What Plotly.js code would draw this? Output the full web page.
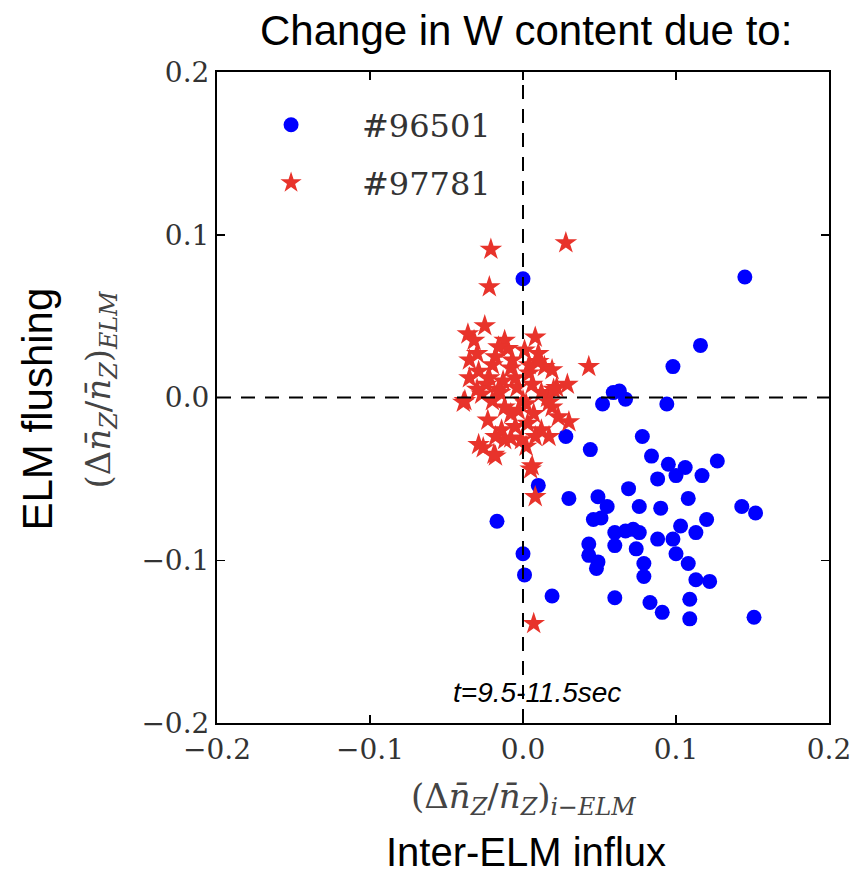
<!DOCTYPE html>
<html>
<head>
<meta charset="utf-8">
<script src="https://cdn.plot.ly/plotly-3.0.1.min.js"></script>
<style>html,body{margin:0;padding:0;background:#fff;}#chart{width:852px;height:875px;}</style>
</head>
<body>
<div id="chart"></div>
<script>
// Shot #96501 (blue circles)
const blueX = [0.000,0.145,0.116,0.098,0.059,0.063,0.067,0.052,0.094,0.028,0.044,0.078,0.084,0.095,0.106,0.127,0.088,0.100,0.117,0.010,0.030,0.069,0.049,0.055,0.076,0.090,0.108,0.143,0.152,0.046,0.051,0.120,0.103,0.113,0.060,0.067,0.072,0.076,0.060,0.088,0.098,0.043,0.074,0.100,0.043,0.049,0.048,0.079,0.108,0.079,0.113,0.122,0.019,0.060,0.083,0.109,0.091,0.109,0.151,-0.017,0.000,0.001];
const blueY = [0.073,0.074,0.032,0.019,0.003,0.004,-0.001,-0.004,-0.004,-0.024,-0.032,-0.024,-0.036,-0.041,-0.043,-0.039,-0.050,-0.048,-0.048,-0.054,-0.062,-0.056,-0.061,-0.067,-0.067,-0.068,-0.062,-0.067,-0.071,-0.075,-0.074,-0.075,-0.079,-0.083,-0.083,-0.082,-0.081,-0.083,-0.091,-0.087,-0.087,-0.090,-0.093,-0.096,-0.097,-0.101,-0.105,-0.102,-0.102,-0.110,-0.112,-0.113,-0.122,-0.123,-0.126,-0.124,-0.132,-0.136,-0.135,-0.076,-0.096,-0.109];
// Shot #97781 (red stars)
const redX = [0.028,-0.021,-0.022,-0.025,-0.036,-0.032,0.008,-0.012,0.043,0.029,-0.039,-0.035,-0.035,-0.038,-0.026,-0.018,0.006,0.014,0.019,0.001,-0.018,-0.007,-0.029,-0.024,-0.013,-0.004,0.006,0.012,0.019,0.023,0.030,-0.020,-0.012,-0.003,-0.023,-0.014,-0.005,0.003,0.012,-0.001,0.008,0.017,-0.012,-0.018,-0.029,-0.019,0.005,0.008,0.007,-0.010,0.004,-0.016,0.010,-0.027,0.016,-0.008,0.002,-0.030,0.022,
              -0.016,-0.008,0.004,-0.022,-0.015,0.000,0.007,-0.008,0.002,-0.020,0.010,-0.030,0.017,-0.005,0.020];
const redY = [0.095,0.091,0.068,0.044,0.039,0.035,0.037,0.035,0.019,0.008,-0.003,0.023,0.012,-0.002,-0.031,-0.036,-0.042,0.019,0.017,0.029,0.025,0.023,0.016,0.008,0.010,0.006,0.008,0.003,-0.006,-0.012,-0.015,-0.002,-0.006,-0.008,-0.014,-0.020,-0.018,-0.016,-0.020,-0.026,-0.024,-0.024,-0.026,-0.024,-0.029,-0.035,-0.044,-0.061,-0.139,0.030,0.015,0.005,0.027,0.002,0.000,-0.010,-0.004,0.027,0.006,
              0.031,0.018,0.020,0.012,0.003,-0.002,-0.010,-0.025,-0.030,0.020,0.022,0.005,-0.003,0.012,0.005];

const legendNames = ['#96501', '#97781'];
const xTickVals = [-0.2,-0.1,0.0,0.1,0.2];
const yTickVals = [-0.2,-0.1,0.0,0.1,0.2];

const serif = 'DejaVu Serif, Liberation Serif, serif';
const sans = 'Liberation Sans, Arial, sans-serif';

const traces = [
  {x: blueX, y: blueY, mode: 'markers', type: 'scatter', name: legendNames[0],
   marker: {symbol: 'circle', size: 15, color: '#0000ff', line: {width: 0}}, legend: 'legend'},
  {x: redX, y: redY, mode: 'markers', type: 'scatter', name: legendNames[1],
   marker: {symbol: 'star', size: 17, color: '#e8332b', line: {width: 0}}, legend: 'legend2'}
];

const tickFmt = v => (v < 0 ? '\u2212' : '') + Math.abs(v).toFixed(1);

const axisCommon = {
  showline: true, linecolor: '#000', linewidth: 2, mirror: 'ticks',
  ticks: 'inside', ticklen: 8, tickwidth: 1.5, tickcolor: '#000',
  showgrid: false, zeroline: false, ticklabeloverflow: 'allow',
  tickfont: {family: serif, size: 28, color: '#333'}
};

const layout = {
  width: 852, height: 875,
  margin: {l: 217, r: 23, t: 72, b: 152},
  paper_bgcolor: '#fff', plot_bgcolor: '#fff',
  showlegend: true,
  xaxis: Object.assign({}, axisCommon, {range: [-0.2, 0.2], tickvals: xTickVals, ticktext: xTickVals.map(tickFmt)}),
  yaxis: Object.assign({}, axisCommon, {range: [-0.2, 0.2], tickvals: yTickVals, ticktext: yTickVals.map(tickFmt)}),
  legend: {x: 0.005, y: 0.9186, xanchor: 'left', yanchor: 'middle', bgcolor: 'rgba(0,0,0,0)',
           font: {family: serif, size: 32, color: '#333'}, itemwidth: 132},
  legend2: {x: 0.005, y: 0.8295, xanchor: 'left', yanchor: 'middle', bgcolor: 'rgba(0,0,0,0)',
           font: {family: serif, size: 32, color: '#333'}, itemwidth: 132},
  shapes: [
    {type: 'line', xref: 'x', yref: 'paper', x0: 0, x1: 0, y0: 0, y1: 1, layer: 'above',
     line: {color: '#000', width: 2, dash: '14px,10px'}},
    {type: 'line', xref: 'paper', yref: 'y', x0: 0, x1: 1, y0: 0, y1: 0, layer: 'above',
     line: {color: '#000', width: 2, dash: '14px,10px'}}
  ],
  annotations: [
    {text: 'Change in W content due to:', xref: 'paper', yref: 'paper', x: 0.505, y: 1, yshift: 42,
     xanchor: 'center', yanchor: 'middle', showarrow: false, font: {family: sans, size: 42, color: '#000'}},
    {text: 'ELM flushing', xref: 'paper', yref: 'paper', x: 0, xshift: -180, y: 0.5, yshift: -12, textangle: -90,
     xanchor: 'center', yanchor: 'middle', showarrow: false, font: {family: sans, size: 42, color: '#000'}},
    {text: '(Δ<i>n̄</i><sub><i>Z</i></sub>/<i>n̄</i><sub><i>Z</i></sub>)<sub><i>ELM</i></sub>', xref: 'paper', yref: 'paper',
     x: 0, xshift: -117, y: 0.5, yshift: 8, textangle: -90,
     xanchor: 'center', yanchor: 'middle', showarrow: false, font: {family: serif, size: 34, color: '#444'}},
    {text: '(Δ<i>n̄</i><sub><i>Z</i></sub>/<i>n̄</i><sub><i>Z</i></sub>)<sub><i>i</i>−<i>ELM</i></sub>', xref: 'paper', yref: 'paper',
     x: 0.5, y: 0, yshift: -75, xanchor: 'center', yanchor: 'middle', showarrow: false,
     font: {family: serif, size: 34, color: '#444'}},
    {text: 'Inter-ELM influx', xref: 'paper', yref: 'paper', x: 0.505, y: 0, yshift: -129,
     xanchor: 'center', yanchor: 'middle', showarrow: false, font: {family: sans, size: 40, color: '#000'}},
    {text: '<i>t=9.5-11.5sec</i>', xref: 'x', yref: 'y', x: 0.009, y: -0.181,
     xanchor: 'center', yanchor: 'middle', showarrow: false, font: {family: sans, size: 28, color: '#000'}}
  ]
};

Plotly.newPlot('chart', traces, layout, {displayModeBar: false, staticPlot: true});
</script>
</body>
</html>
